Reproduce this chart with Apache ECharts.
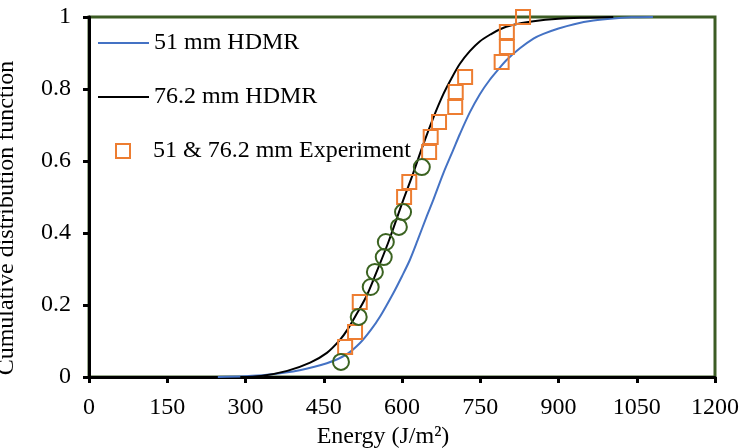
<!DOCTYPE html>
<html>
<head>
<meta charset="utf-8">
<script src="https://cdn.jsdelivr.net/npm/echarts@6/dist/echarts.min.js"></script>
<style>html,body{margin:0;padding:0;background:#fff}#c{width:741px;height:448px}</style>
</head>
<body>
<div id="c"></div>
<script>
// Tick labels / axis ranges
var xTicks = [0, 150, 300, 450, 600, 750, 900, 1050, 1200];
var yTicks = [0, 0.2, 0.4, 0.6, 0.8, 1];

// 51 mm HDMR curve (energy, CDF)
var hdmr51X = [247, 300, 341, 404, 456, 494, 520, 540, 558, 583, 600, 615, 630, 647, 660, 679, 698, 711, 730, 749, 768, 788, 800, 826, 852, 871, 900, 930, 967, 1005, 1040, 1081];
var hdmr51Y = [0, 0.002, 0.006, 0.019, 0.038, 0.063, 0.095, 0.13, 0.168, 0.232, 0.28, 0.325, 0.38, 0.445, 0.492, 0.565, 0.63, 0.675, 0.735, 0.785, 0.825, 0.86, 0.88, 0.913, 0.94, 0.953, 0.968, 0.98, 0.99, 0.996, 0.999, 1.0];

// 76.2 mm HDMR curve
var hdmr76X = [290, 330, 380, 424, 456, 481, 497, 517, 532, 548, 574, 602, 620, 638, 660, 679, 695, 711, 730, 749, 770, 788, 810, 852, 900, 950, 1005];
var hdmr76Y = [0, 0.003, 0.017, 0.04, 0.067, 0.103, 0.135, 0.185, 0.225, 0.28, 0.375, 0.49, 0.56, 0.635, 0.72, 0.785, 0.83, 0.87, 0.905, 0.932, 0.952, 0.966, 0.977, 0.988, 0.995, 0.998, 1.0];

// Experiment (squares)
var expSqX = [491, 510, 519, 604, 614, 652, 655, 671, 702, 703, 721, 791, 801, 801, 832];
var expSqY = [0.083, 0.125, 0.208, 0.5, 0.542, 0.625, 0.667, 0.708, 0.75, 0.792, 0.833, 0.875, 0.917, 0.958, 1.0];

// Experiment (circles)
var expCiX = [483, 517, 540, 548, 565, 569, 594, 602, 638];
var expCiY = [0.042, 0.167, 0.25, 0.292, 0.333, 0.375, 0.417, 0.458, 0.583];

function zip(a, b) { return a.map(function (v, i) { return [v, b[i]]; }); }

var FONT = 'Liberation Serif';
var FS = 24;
var chart = echarts.init(document.getElementById('c'), null, { renderer: 'canvas' });

var legendBase = {
  orient: 'vertical', padding: 0, itemGap: 0, selectedMode: false,
  textStyle: { fontFamily: FONT, fontSize: FS, color: '#000', lineHeight: 14 }
};

chart.setOption({
  animation: false,
  backgroundColor: '#fff',
  grid: { left: 89, right: 26, top: 17, bottom: 71, show: true, borderColor: '#3C5C24', borderWidth: 3,
    backgroundColor: 'transparent', containLabel: false, outerBoundsMode: 'none' },
  legend: [
    Object.assign({}, legendBase, { left: 97, top: 31, itemWidth: 51, itemHeight: 14, itemStyle: { opacity: 0 }, data: ['51 mm HDMR'] }),
    Object.assign({}, legendBase, { left: 97, top: 85, itemWidth: 51, itemHeight: 14, itemStyle: { opacity: 0 }, data: ['76.2 mm HDMR'] }),
    Object.assign({}, legendBase, { left: 115, top: 139, itemWidth: 14, itemHeight: 14, data: ['51 & 76.2 mm Experiment'],
      textStyle: { fontFamily: FONT, fontSize: FS, color: '#000', lineHeight: 14, padding: [0, 0, 0, 18] } })
  ],
  xAxis: {
    type: 'value', min: 0, max: 1200, interval: 150,
    name: 'Energy (J/m\u00B2)', nameLocation: 'middle', nameGap: 46,
    nameTextStyle: { fontFamily: FONT, fontSize: FS, color: '#000', padding: [0, 38, 0, 0] },
    axisLine: { show: true, onZero: false, lineStyle: { color: '#000', width: 3 } },
    axisTick: { show: true, inside: false, length: 6, lineStyle: { color: '#000', width: 3 } },
    axisLabel: { margin: 19, fontFamily: FONT, fontSize: FS, color: '#000',
      formatter: function (v) { return xTicks.indexOf(v) >= 0 ? String(v) : ''; } },
    splitLine: { show: false }
  },
  yAxis: {
    type: 'value', min: 0, max: 1, interval: 0.2,
    name: 'Cumulative distribution function', nameLocation: 'middle', nameGap: 70,
    nameTextStyle: { fontFamily: FONT, fontSize: FS, color: '#000', padding: [0, 42, 0, 0] },
    axisLine: { show: true, onZero: false, lineStyle: { color: '#000', width: 3 } },
    axisTick: { show: true, inside: false, length: 6, lineStyle: { color: '#000', width: 3 } },
    axisLabel: { margin: 18, fontFamily: FONT, fontSize: FS, color: '#000',
      formatter: function (v) { var r = Math.round(v * 10) / 10; return yTicks.indexOf(r) >= 0 ? String(r) : ''; } },
    splitLine: { show: false }
  },
  series: [
    { name: '51 mm HDMR', type: 'line', data: zip(hdmr51X, hdmr51Y), smooth: 0.3, showSymbol: false, symbol: 'none',
      lineStyle: { color: '#4472C4', width: 2 }, itemStyle: { color: '#4472C4' }, z: 2 },
    { name: '76.2 mm HDMR', type: 'line', data: zip(hdmr76X, hdmr76Y), smooth: 0.3, showSymbol: false, symbol: 'none',
      lineStyle: { color: '#000', width: 2 }, itemStyle: { color: '#000' }, z: 2 },
    { name: '51 & 76.2 mm Experiment', type: 'scatter', data: zip(expSqX, expSqY), symbol: 'rect', symbolSize: 14,
      itemStyle: { color: 'rgba(255,255,255,0)', borderColor: '#ED7D31', borderWidth: 2, opacity: 1 }, z: 3 },
    { name: 'Experiment circles', type: 'scatter', data: zip(expCiX, expCiY), symbol: 'circle', symbolSize: 16,
      itemStyle: { color: 'rgba(255,255,255,0)', borderColor: '#3B6321', borderWidth: 2, opacity: 1 }, z: 3 }
  ]
});
</script>
</body>
</html>
